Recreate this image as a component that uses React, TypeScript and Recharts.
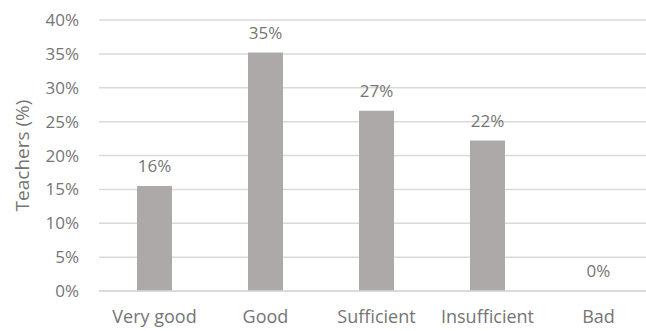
import React from 'react';
import { ComposedChart, Bar, Line, XAxis, YAxis, CartesianGrid, LabelList } from 'recharts';

const categories = ['Very good', 'Good', 'Sufficient', 'Insufficient', 'Bad'];
const teachers = [15.5, 35.2, 26.6, 22.2, 0];
const yTicks = [0, 5, 10, 15, 20, 25, 30, 35, 40];

const chartData = categories.map((name, i) => ({ name, value: teachers[i] }));

const textColor = '#757575';
const fontFamily = '"Open Sans", sans-serif';

const App: React.FC = () => {
    return (
        <div style={{ position: 'fixed', left: 0, top: 0, width: 646, height: 331, overflow: 'hidden', background: '#fff' }}>
            <ComposedChart
                width={660}
                height={331}
                data={chartData}
                margin={{ top: 20, right: 6, bottom: 10, left: 0 }}
                barSize={35}
                style={{ fontFamily }}
            >
                <CartesianGrid vertical={false} stroke="#d9d9d9" strokeWidth={1.5} />
                <XAxis
                    dataKey="name"
                    axisLine={{ stroke: '#d9d9d9', strokeWidth: 1.5 }}
                    tickLine={false}
                    tickSize={0}
                    tickMargin={19}
                    tick={{ fill: textColor, fontSize: 18 }}
                    height={30}
                    interval={0}
                />
                <YAxis
                    domain={[0, 40]}
                    ticks={yTicks}
                    tickFormatter={(v: number) => `${v}%`}
                    axisLine={false}
                    tickLine={false}
                    tickSize={0}
                    tickMargin={20}
                    width={99}
                    tick={{ fill: textColor, fontSize: 17 }}
                    label={{
                        value: 'Teachers (%)',
                        angle: -90,
                        position: 'center',
                        dx: -27,
                        fill: textColor,
                        fontSize: 19,
                    }}
                />
                <Bar dataKey="value" fill="#ada9a8" isAnimationActive={false} />
                {/* invisible series carrying the value labels, so the 0% label is drawn too */}
                <Line
                    dataKey="value"
                    stroke="none"
                    dot={false}
                    activeDot={false}
                    legendType="none"
                    isAnimationActive={false}
                >
                    <LabelList
                        dataKey="value"
                        position="top"
                        offset={14}
                        formatter={(v: number) => `${Math.round(v)}%`}
                        fill={textColor}
                        fontSize={17}
                    />
                </Line>
            </ComposedChart>
        </div>
    );
};

export default App;
